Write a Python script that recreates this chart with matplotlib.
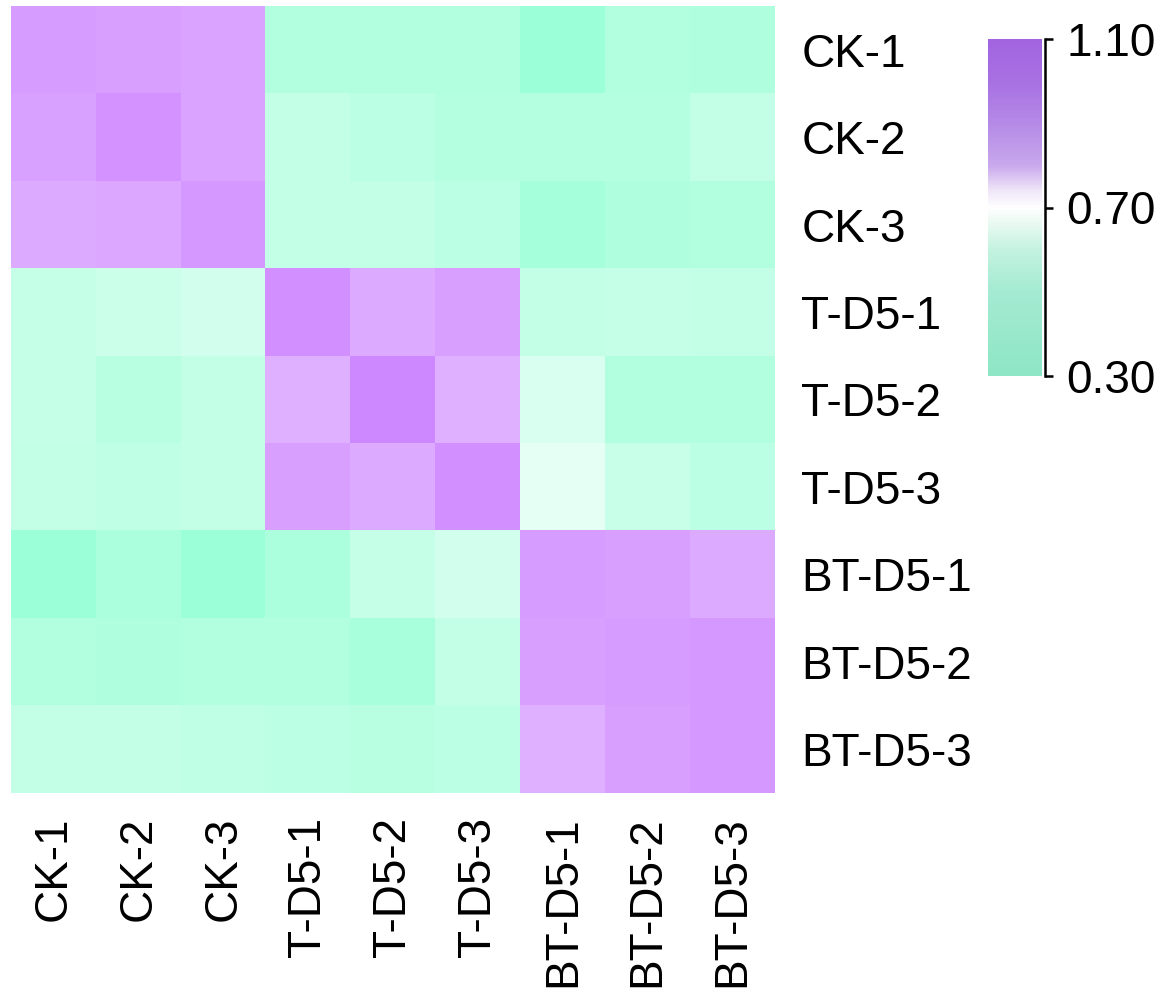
import numpy as np
import matplotlib
matplotlib.use("Agg")
from matplotlib import pyplot as plt
from matplotlib.colors import LinearSegmentedColormap, Normalize
from matplotlib.cm import ScalarMappable

plt.rcParams['font.family'] = ['Liberation Sans', 'DejaVu Sans']

samples = ['CK-1', 'CK-2', 'CK-3', 'T-D5-1', 'T-D5-2', 'T-D5-3',
           'BT-D5-1', 'BT-D5-2', 'BT-D5-3']

# correlation values (rows top to bottom)
corr = np.array([
    [0.94, 0.93, 0.92, 0.46, 0.46, 0.46, 0.39, 0.46, 0.45],
    [0.925, 0.96, 0.92, 0.51, 0.49, 0.47, 0.47, 0.47, 0.51],
    [0.906, 0.91, 0.95, 0.51, 0.51, 0.49, 0.42, 0.45, 0.46],
    [0.52, 0.54, 0.56, 0.97, 0.905, 0.93, 0.51, 0.52, 0.51],
    [0.52, 0.48, 0.51, 0.89, 0.985, 0.89, 0.58, 0.46, 0.46],
    [0.51, 0.50, 0.51, 0.93, 0.905, 0.97, 0.62, 0.53, 0.49],
    [0.39, 0.44, 0.39, 0.44, 0.52, 0.56, 0.94, 0.93, 0.905],
    [0.46, 0.45, 0.46, 0.46, 0.43, 0.51, 0.93, 0.94, 0.95],
    [0.51, 0.51, 0.50, 0.49, 0.48, 0.49, 0.89, 0.93, 0.95],
])

vmin, vmax = 0.30, 1.10
cbar_ticks = [0.30, 0.70, 1.10]

heat_cmap = LinearSegmentedColormap.from_list(
    'heat', [(0, '#80ffcc'), (0.5, '#ffffff'), (1, '#bc5aff')])
bar_cmap = LinearSegmentedColormap.from_list(
    'bar', [(0, '#8ee6c6'), (0.25, '#a4ead2'), (0.375, '#c4f2e0'),
            (0.45, '#e8f9f2'), (0.5, '#ffffff'), (0.55, '#efe6f8'),
            (0.625, '#c9a8ec'), (0.75, '#b48ae6'), (0.875, '#a870e2'),
            (1, '#a264e0')])
norm = Normalize(vmin=vmin, vmax=vmax)

fig = plt.figure(figsize=(11.61, 10), dpi=100)
ax = fig.add_axes([0.0095, 0.207, 0.658, 0.787])
ax.imshow(corr, cmap=heat_cmap, norm=norm, aspect='auto', interpolation='nearest')
for s in ax.spines.values():
    s.set_visible(False)
ax.set_xticks(range(len(samples)))
ax.set_xticklabels(samples, rotation=90, fontsize=33)
ax.set_yticks(range(len(samples)))
ax.set_yticklabels(samples, fontsize=33)
ax.yaxis.tick_right()
ax.tick_params(axis='both', length=0)
ax.tick_params(axis='x', pad=17)
ax.tick_params(axis='y', pad=19)

cax = fig.add_axes([0.851, 0.624, 0.0465, 0.337])
cb = fig.colorbar(ScalarMappable(norm=norm, cmap=bar_cmap), cax=cax, ticks=cbar_ticks)
cb.outline.set_visible(False)
cax.spines['right'].set_visible(True)
cax.spines['right'].set_position(('outward', 2.5))
cax.spines['right'].set_linewidth(1.8)
cax.set_yticklabels(['%.2f' % t for t in cbar_ticks])
cax.tick_params(axis='y', direction='out', length=6, width=1.8, pad=9, labelsize=33)

fig.savefig('out.png', dpi=100)
